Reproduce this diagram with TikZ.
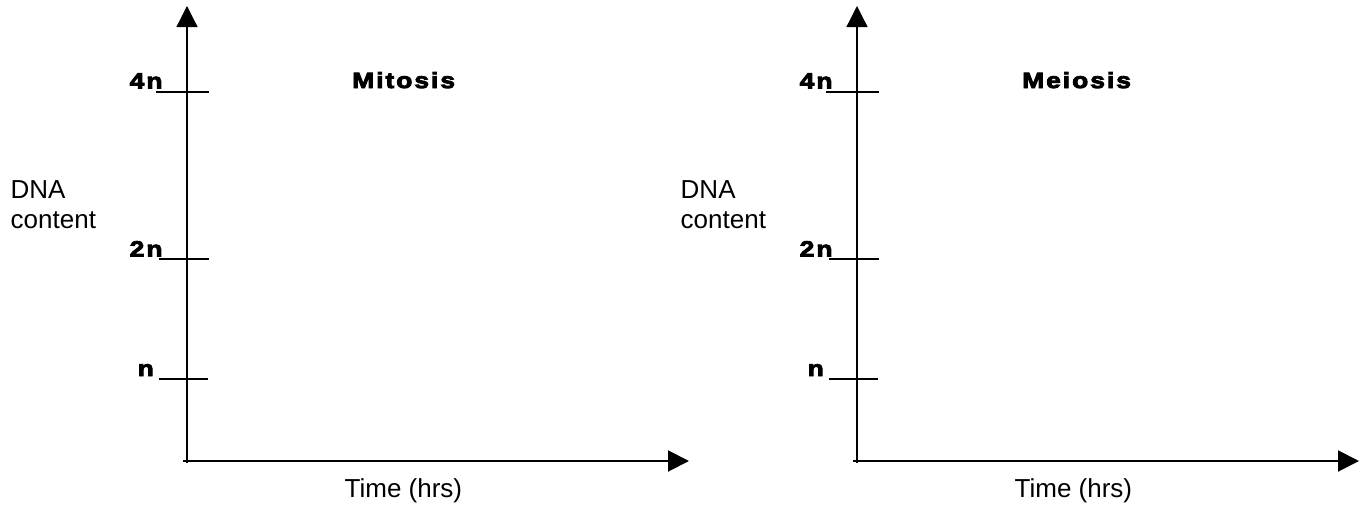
\documentclass[tikz,border=0pt]{standalone}
\usepackage{fontspec}
\setmainfont{Liberation Sans}
\newfontfamily\lblfont{Liberation Sans}[UprightFont=*-Bold,FakeStretch=1.2,LetterSpace=9,FakeBold=4]
\usetikzlibrary{arrows.meta}
\begin{document}
\begin{tikzpicture}[x=1pt,y=-1pt,
  vaxis/.style={line width=1.3pt,-{Triangle[length=21pt,width=21pt]}},
  haxis/.style={line width=2pt,-{Triangle[length=21pt,width=21pt]}},
  tickline/.style={line width=1.3pt},
  lbl/.style={anchor=base west,inner sep=0pt,font=\lblfont\fontsize{22}{26}\selectfont},
  txt/.style={anchor=base west,inner sep=0pt,font=\fontsize{26}{30}\selectfont}]
\useasboundingbox (0,0) rectangle (1361,506);
\foreach \dx/\ttl/\k in {0/Mitosis/a,670/Meiosis/b}{
  % axes
  \coordinate (vb\k) at (187+\dx,463);
  \coordinate (vt\k) at (187+\dx,6);
  \coordinate (hb\k) at (183+\dx,461);
  \coordinate (ht\k) at (689+\dx,461);
  \draw[vaxis] (vb\k) -- (vt\k);
  \draw[haxis] (hb\k) -- (ht\k);
  % ticks
  \coordinate (t4l\k) at (156+\dx,92);
  \coordinate (t4r\k) at (209+\dx,92);
  \coordinate (t2l\k) at (159+\dx,259);
  \coordinate (t2r\k) at (209+\dx,259);
  \coordinate (t1l\k) at (159+\dx,379);
  \coordinate (t1r\k) at (208+\dx,379);
  \draw[tickline] (t4l\k) -- (t4r\k);
  \draw[tickline] (t2l\k) -- (t2r\k);
  \draw[tickline] (t1l\k) -- (t1r\k);
  % labels
  \node[lbl] (l4\k) at (129.5+\dx,88.5) {4n};
  \node[lbl] (l2\k) at (129.5+\dx,256.5) {2n};
  \node[lbl] (l1\k) at (137.5+\dx,376) {n};
  \node[lbl] (ttl\k) at (352+\dx,88) {\ttl};
  \node[txt] (dna\k) at (10.5+\dx,198.3) {DNA};
  \node[txt] (cnt\k) at (10.5+\dx,228) {content};
  \node[txt] (tim\k) at (344.5+\dx,497) {Time (hrs)};
}
\end{tikzpicture}
\end{document}
